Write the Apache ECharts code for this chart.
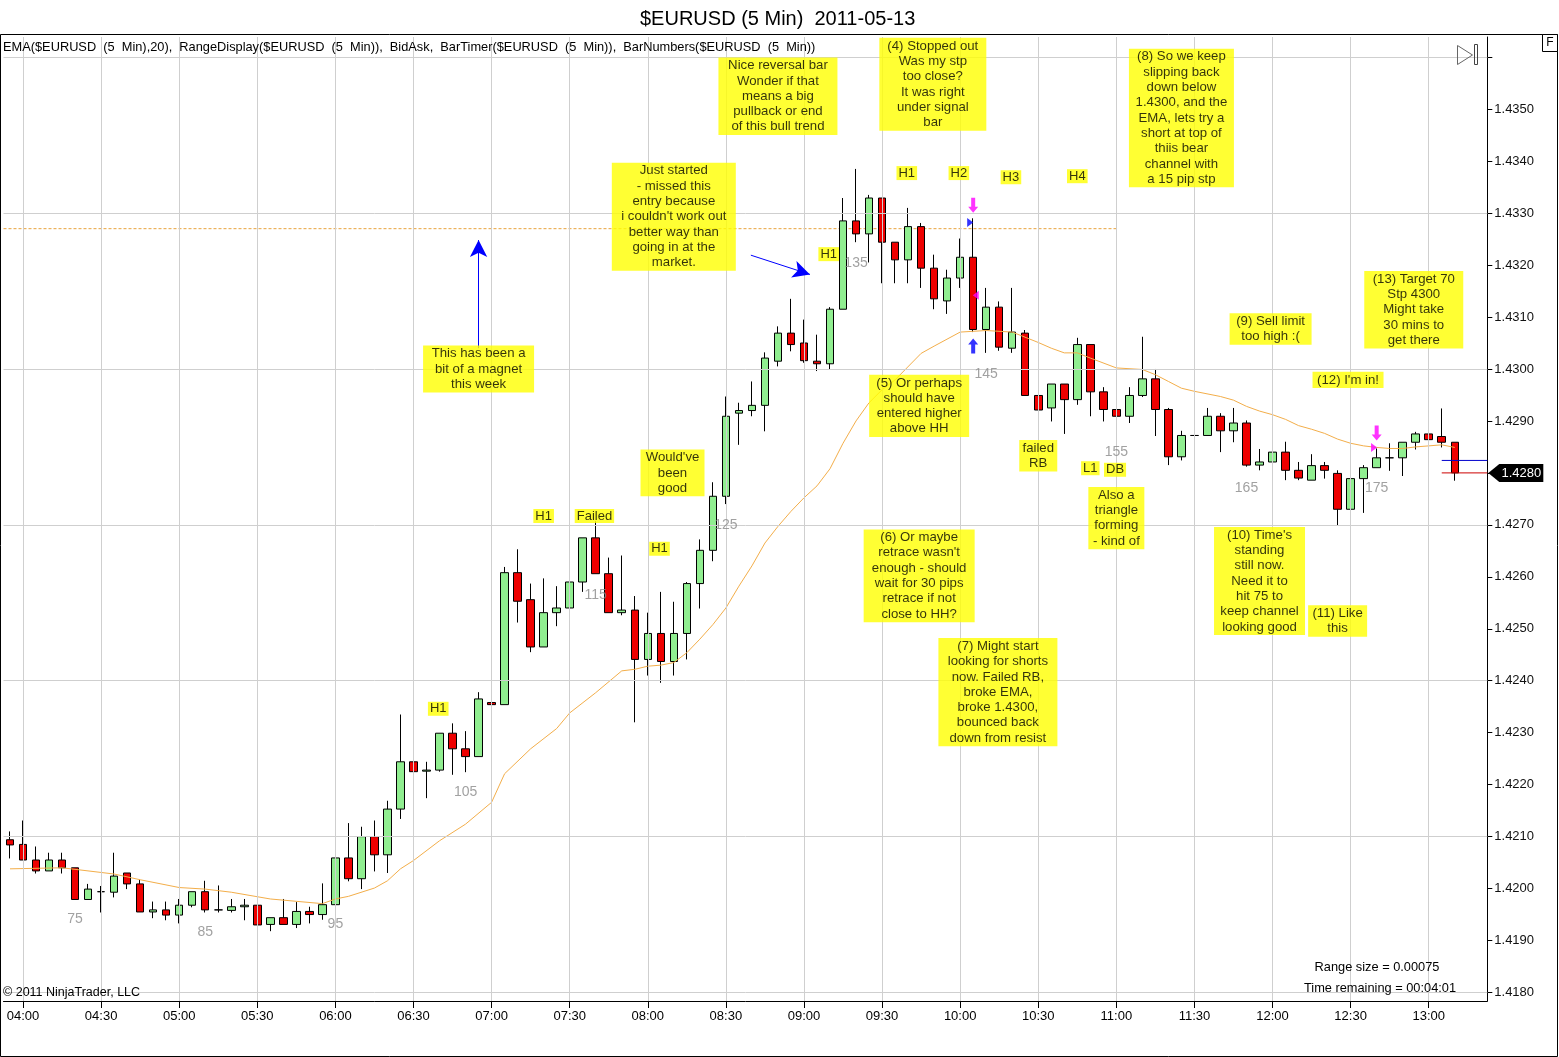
<!DOCTYPE html>
<html><head><meta charset="utf-8">
<script src="https://cdn.jsdelivr.net/npm/echarts@6/dist/echarts.min.js"></script>
<style>html,body{margin:0;padding:0;background:#fff}#c{width:1559px;height:1057px}</style>
</head><body><div id="c"></div>
<script>
const FONT = 'Liberation Sans, Arial, sans-serif';
// ---- data ----
const firstBarNumber = 70;
const opens = [1.42094,1.42085,1.42055,1.42034,1.42055,1.42040,1.41979,1.41994,1.41993,1.42030,
1.42009,1.41955,1.41959,1.41949,1.41968,1.41994,1.41959,1.41958,1.41965,1.41968,
1.41931,1.41944,1.41931,1.41956,1.41950,1.41969,1.42059,1.42019,1.42100,1.42065,
1.42153,1.42244,1.42226,1.42228,1.42299,1.42269,1.42254,1.42358,1.42354,1.42608,
1.42556,1.42465,1.42531,1.42540,1.42590,1.42675,1.42606,1.42531,1.42536,1.42441,
1.42491,1.42437,1.42491,1.42587,1.42651,1.42755,1.42915,1.42920,1.42930,1.43015,
1.43069,1.43050,1.43015,1.43010,1.43115,1.43285,1.43260,1.43329,1.43244,1.43210,
1.43274,1.43194,1.43131,1.43175,1.43215,1.43076,1.43119,1.43040,1.43069,1.42949,
1.42925,1.42971,1.42941,1.43047,1.42956,1.42922,1.42909,1.42949,1.42981,1.42922,
1.42831,1.42872,1.42872,1.42909,1.42881,1.42896,1.42815,1.42821,1.42840,1.42805,
1.42786,1.42814,1.42799,1.42730,1.42789,1.42810,1.42829,1.42829,1.42859,1.42875,
1.42870,1.42859];
const highs = [1.42110,1.42131,1.42081,1.42069,1.42069,1.42040,1.42009,1.42005,1.42069,1.42030,
1.42017,1.41975,1.41975,1.41980,1.41994,1.42015,1.42006,1.41980,1.41980,1.41990,
1.41944,1.41980,1.41974,1.41965,1.42010,1.42131,1.42126,1.42119,1.42131,1.42169,
1.42335,1.42280,1.42244,1.42299,1.42318,1.42303,1.42378,1.42378,1.42619,1.42653,
1.42587,1.42597,1.42582,1.42603,1.42675,1.42707,1.42637,1.42641,1.42563,1.42531,
1.42571,1.42552,1.42590,1.42672,1.42782,1.42947,1.42935,1.42976,1.43032,1.43082,
1.43135,1.43095,1.43066,1.43119,1.43329,1.43385,1.43335,1.43329,1.43244,1.43310,
1.43281,1.43220,1.43191,1.43251,1.43290,1.43156,1.43130,1.43156,1.43075,1.43021,
1.42971,1.42971,1.43060,1.43047,1.42965,1.42931,1.42965,1.43062,1.43000,1.42925,
1.42881,1.42936,1.42925,1.42915,1.42925,1.42901,1.42846,1.42922,1.42860,1.42821,
1.42836,1.42821,1.42805,1.42800,1.42815,1.42847,1.42857,1.42859,1.42879,1.42901,
1.42924,1.42859];
const lows = [1.42058,1.42055,1.42029,1.42034,1.42029,1.41979,1.41979,1.41954,1.41983,1.41999,
1.41955,1.41943,1.41939,1.41933,1.41964,1.41954,1.41954,1.41954,1.41939,1.41930,
1.41918,1.41931,1.41924,1.41933,1.41940,1.41969,1.42014,1.41999,1.42033,1.42030,
1.42134,1.42209,1.42174,1.42225,1.42219,1.42224,1.42254,1.42328,1.42354,1.42512,
1.42455,1.42465,1.42505,1.42526,1.42571,1.42606,1.42531,1.42526,1.42320,1.42410,
1.42396,1.42410,1.42441,1.42539,1.42630,1.42740,1.42854,1.42909,1.42880,1.43005,
1.43034,1.43012,1.42996,1.42999,1.43115,1.43244,1.43205,1.43165,1.43165,1.43165,
1.43156,1.43115,1.43106,1.43156,1.43071,1.43031,1.43035,1.43031,1.42949,1.42902,
1.42899,1.42875,1.42931,1.42909,1.42899,1.42880,1.42896,1.42946,1.42871,1.42815,
1.42824,1.42849,1.42872,1.42840,1.42859,1.42812,1.42805,1.42812,1.42786,1.42786,
1.42786,1.42789,1.42699,1.42710,1.42723,1.42810,1.42804,1.42794,1.42845,1.42849,
1.42849,1.42785];
const closes = [1.42084,1.42055,1.42034,1.42055,1.42040,1.41979,1.41999,1.41994,1.42024,1.42009,
1.41955,1.41959,1.41949,1.41968,1.41994,1.41959,1.41959,1.41965,1.41968,1.41930,
1.41944,1.41931,1.41956,1.41950,1.41969,1.42059,1.42019,1.42100,1.42065,1.42153,
1.42244,1.42225,1.42228,1.42299,1.42269,1.42254,1.42365,1.42354,1.42608,1.42553,
1.42465,1.42531,1.42540,1.42590,1.42675,1.42606,1.42531,1.42536,1.42441,1.42491,
1.42437,1.42491,1.42587,1.42651,1.42755,1.42909,1.42920,1.42930,1.43021,1.43069,
1.43047,1.43016,1.43010,1.43115,1.43285,1.43260,1.43329,1.43244,1.43210,1.43274,
1.43194,1.43135,1.43175,1.43215,1.43076,1.43119,1.43042,1.43071,1.42949,1.42921,
1.42971,1.42941,1.43047,1.42956,1.42922,1.42909,1.42949,1.42981,1.42922,1.42831,
1.42872,1.42872,1.42909,1.42881,1.42896,1.42815,1.42821,1.42840,1.42805,1.42790,
1.42814,1.42805,1.42730,1.42789,1.42810,1.42829,1.42829,1.42859,1.42875,1.42864,
1.42859,1.42800];
// EMA(20) at these bar numbers
const emaBars = [70,74,78,80,83,85,87,90,94,95,96,98,99,100,101,103,105,107,108,110,112,113,115,117,118,119,120,121,122,123,124,125,126,127,128,129,130,131,132,133,134,135,136,137,138,140,141,143,145,147,149,150,151,152,153,155,157,158,159,160,161,163,164,165,166,167,168,169,170,171,172,173,174,175,176,177,178,179,180,181];
const emaValues = [1.42038,1.42040,1.42028,1.42017,1.42002,1.41999,1.41993,1.41980,1.41971,1.41980,1.41985,1.42001,1.42015,1.42038,1.42054,1.42092,1.42124,1.42166,1.42221,1.42269,1.42308,1.42338,1.42377,1.42419,1.42422,1.42428,1.42430,1.42435,1.42454,1.42480,1.42508,1.42540,1.42582,1.42621,1.42665,1.42697,1.42726,1.42752,1.42775,1.42808,1.42857,1.42900,1.42935,1.42960,1.42979,1.43030,1.43044,1.43071,1.43074,1.43071,1.43051,1.43040,1.43031,1.43031,1.43021,1.43002,1.42999,1.42989,1.42976,1.42963,1.42957,1.42947,1.42940,1.42928,1.42919,1.42912,1.42903,1.42891,1.42884,1.42876,1.42865,1.42857,1.42852,1.42849,1.42847,1.42847,1.42850,1.42852,1.42854,1.42849];
const magnetLevel = 1.4327;
const magnetEndBar = 155;
const bidPrice = 1.42824, askPrice = 1.4280, lastPrice = 1.4280;
const quoteStartBar = 180;
const yTickValues = [1.418,1.419,1.420,1.421,1.422,1.423,1.424,1.425,1.426,1.427,1.428,1.429,1.430,1.431,1.432,1.433,1.434,1.435,1.436];
const yLabelValues = [1.418,1.419,1.420,1.421,1.422,1.423,1.424,1.425,1.426,1.427,1.428,1.429,1.430,1.431,1.432,1.433,1.434,1.435];
const yGridValues = [1.418,1.421,1.424,1.427,1.430,1.433,1.436];
const barNumberLabels = ['75','85','95','105','115','125','135','145','155','165','175'];
const barNumberBars = [75,85,95,105,115,125,135,145,155,165,175];
const barNumberPrices = [1.41941,1.41916,1.41932,1.42186,1.42565,1.42700,1.43204,1.42990,1.42840,1.42771,1.42771];
const noteTexts = [
 'This has been a\nbit of a magnet\nthis week',
 'Just started\n- missed this\nentry because\ni couldn\'t work out\nbetter way than\ngoing in at the\nmarket.',
 'Nice reversal bar\nWonder if that\nmeans a big\npullback or end\nof this bull trend',
 '(4) Stopped out\nWas my stp\ntoo close?\nIt was right\nunder signal\nbar',
 '(8) So we keep\nslipping back\ndown below\n1.4300, and the\nEMA, lets try a\nshort at top of\nthiis bear\nchannel with\na 15 pip stp',
 '(5) Or perhaps\nshould have\nentered higher\nabove HH',
 'Would\'ve\nbeen\ngood',
 '(6) Or maybe\nretrace wasn\'t\nenough - should\nwait for 30 pips\nretrace if not\nclose to HH?',
 '(7) Might start\nlooking for shorts\nnow. Failed RB,\nbroke EMA,\nbroke 1.4300,\nbounced back\ndown from resist',
 'failed\nRB',
 'Also a\ntriangle\nforming\n- kind of',
 '(9) Sell limit\ntoo high :(',
 '(10) Time\'s\nstanding\nstill now.\nNeed it to\nhit 75 to\nkeep channel\nlooking good',
 '(11) Like\nthis',
 '(12) I\'m in!',
 '(13) Target 70\nStp 4300\nMight take\n30 mins to\nget there'
];
const noteBars = [106.0,121.0,129.0,140.9,160.0,139.85,120.9,139.85,145.9,149.0,155.0,166.85,166.0,172.0,172.8,177.85];
const notePrices = [1.43000,1.43293,1.43525,1.43548,1.43483,1.42929,1.42800,1.42602,1.42378,1.42833,1.42713,1.43077,1.42592,1.42515,1.42979,1.43114];
// box widths (style)
const noteBoxWidths = [111,124,119,107,105,100,64,111,119,38,56,82,91,59,71,99];
const tagTexts = ['H1','Failed','H1','H1','H1','H1','H2','H3','H4','L1','DB'];
const tagBars = [111.0,114.9,119.9,102.9,132.9,138.9,142.9,146.9,152.0,153.0,154.9];
const tagPrices = [1.42717,1.42717,1.42654,1.42346,1.43221,1.43377,1.43377,1.43369,1.43371,1.42809,1.42806];
// trade markers
const markerBars = [144,143.77,144.2,144,175,174.8];
const markerPrices = [1.43315,1.43282,1.43142,1.43044,1.42877,1.42849];
const markerKinds = ['downPink','triRightBlue','triLeftPink','upBlue','downPink','triRightPink'];
// annotation arrows [bar, price]
const arrowFrom = [[106.0,1.43040],[126.92,1.43219]];
const arrowTo = [[106.0,1.43248],[131.46,1.43182]];

// ---- categories ----
const nCats = 114;
const times = [];
for (let k = 0; k < nCats; k++) {
  const m = 3 * 60 + 55 + 5 * k;
  times.push(String(Math.floor(m / 60)).padStart(2, '0') + ':' + String(m % 60).padStart(2, '0'));
}
const isHalfHour = v => v.endsWith(':00') || v.endsWith(':30');
const gridIdx = [];
times.forEach((t, k) => { if (isHalfHour(t) && k < 112) gridIdx.push(k); });
const idx = b => b - firstBarNumber;

const candleData = opens.map((o, i) => [o, closes[i], lows[i], highs[i]]);

const SYM = {
  downPink: ['path://M3,0L7,0L7,9L10,9L5,15L0,9L3,9Z', [10, 15], '#ff00ff'],
  upBlue: ['path://M5,0L10,6L7,6L7,15L3,15L3,6L0,6Z', [10, 15], '#0000ff'],
  triRightBlue: ['path://M0,0L6,4L0,8Z', [6, 9], '#0000ff'],
  triRightPink: ['path://M0,0L6,4L0,8Z', [6, 9], '#ff00ff'],
  triLeftPink: ['path://M6,0L0,4L6,8Z', [6, 9], '#ff00ff']
};
const HIDDEN = { color: 'rgba(0,0,0,0)' };

const yMin = 1.4178364, yMax = 1.436389;
const chart = echarts.init(document.getElementById('c'), null, { renderer: 'canvas' });

const option = {
  animation: false,
  backgroundColor: '#fff',
  title: { text: '$EURUSD (5 Min)  2011-05-13', left: 635, top: 4,
    textStyle: { fontFamily: FONT, fontSize: 20, fontWeight: 'normal', color: '#000' } },
  grid: { left: 3.5, right: 71.7, top: 37, bottom: 56 },
  xAxis: [
    { type: 'category', data: times, boundaryGap: true,
      axisLine: { show: true, onZero: false, lineStyle: { color: '#000', width: 1 } },
      axisTick: { show: true, alignWithLabel: true, length: 7, interval: (i, v) => isHalfHour(v) && i < 112, lineStyle: { color: '#000' } },
      axisLabel: { interval: (i, v) => isHalfHour(v) && i < 112, fontFamily: FONT, fontSize: 13, color: '#000', margin: 9 },
      splitLine: { show: false } },
    { type: 'value', min: -0.5, max: nCats - 0.5, show: false, gridIndex: 0 }
  ],
  yAxis: [{
    type: 'value', position: 'right', min: yMin, max: yMax, scale: true,
    axisLine: { show: true, onZero: false, lineStyle: { color: '#000', width: 1 } },
    axisTick: { show: true, inside: false, length: 5, customValues: yTickValues, lineStyle: { color: '#000' } },
    axisLabel: { customValues: yLabelValues, formatter: v => v.toFixed(4), fontFamily: FONT, fontSize: 13, color: '#111', margin: 7 },
    splitLine: { show: false }
  }],
  series: [
    { type: 'line', name: 'grid', xAxisIndex: 1, yAxisIndex: 0, z: 1, silent: true, showSymbol: false, symbol: 'none',
      data: [[-0.5, yMin], [-0.5, yMin]], lineStyle: { width: 0, opacity: 0 },
      markLine: { silent: true, symbol: 'none', precision: 6, animation: false, label: { show: false },
        lineStyle: { color: '#cfcfcf', width: 1, type: 'solid', opacity: 1 },
        data: gridIdx.map(k => ({ xAxis: k })).concat(yGridValues.map(v => ({ yAxis: v }))) } },
    { type: 'line', name: 'magnet', xAxisIndex: 1, yAxisIndex: 0, z: 2, silent: true, showSymbol: false, symbol: 'none',
      data: [[-0.5, magnetLevel], [idx(magnetEndBar), magnetLevel]],
      lineStyle: { color: '#e8a33a', width: 1, type: [3, 2] } },
    { type: 'candlestick', name: 'EURUSD', xAxisIndex: 0, yAxisIndex: 0, data: candleData, barWidth: 8, z: 3, silent: true,
      itemStyle: { color: '#90ee90', color0: '#ee0000', borderColor: '#000', borderColor0: '#000', borderColorDoji: '#000', borderWidth: 1 } },
    { type: 'line', name: 'EMA', xAxisIndex: 1, yAxisIndex: 0, z: 4, silent: true, showSymbol: false, symbol: 'none',
      data: emaBars.map((b, k) => [idx(b), emaValues[k]]),
      lineStyle: { color: '#f3ae4a', width: 1 } },
    { type: 'line', name: 'bid', xAxisIndex: 1, yAxisIndex: 0, z: 4, silent: true, showSymbol: false, symbol: 'none',
      data: [[idx(quoteStartBar), bidPrice], [nCats - 0.5, bidPrice]], lineStyle: { color: '#0000cc', width: 1 } },
    { type: 'line', name: 'ask', xAxisIndex: 1, yAxisIndex: 0, z: 4, silent: true, showSymbol: false, symbol: 'none',
      data: [[idx(quoteStartBar), askPrice], [nCats - 0.5, askPrice]], lineStyle: { color: '#cc0000', width: 1 } },
    { type: 'scatter', name: 'barNumbers', xAxisIndex: 1, yAxisIndex: 0, z: 5, silent: true, symbolSize: 1, itemStyle: HIDDEN,
      data: barNumberBars.map((b, k) => ({ value: [idx(b), barNumberPrices[k]], label: { formatter: barNumberLabels[k] } })),
      label: { show: true, position: 'inside', color: '#8a8a8a', fontFamily: FONT, fontSize: 14 },
      markLine: { silent: true, symbol: ['none', 'arrow'], symbolSize: [13, 17], precision: 6, animation: false, label: { show: false },
        lineStyle: { color: '#0000ff', width: 1, type: 'solid' },
        data: arrowFrom.map((f, k) => [{ coord: [idx(f[0]), f[1]] }, { coord: [idx(arrowTo[k][0]), arrowTo[k][1]] }]) } },
    { type: 'scatter', name: 'markers', xAxisIndex: 1, yAxisIndex: 0, z: 6, silent: true,
      data: markerBars.map((b, k) => { const s = SYM[markerKinds[k]]; return { value: [idx(b), markerPrices[k]], symbol: s[0], symbolSize: s[1], itemStyle: { color: s[2] } }; }) },
    { type: 'scatter', name: 'tags', xAxisIndex: 1, yAxisIndex: 0, z: 8, silent: true, symbolSize: 1, itemStyle: HIDDEN,
      data: tagBars.map((b, k) => ({ value: [idx(b), tagPrices[k]], label: { formatter: tagTexts[k] } })),
      label: { show: true, position: 'inside', backgroundColor: '#ffff00', color: '#000', fontFamily: FONT, fontSize: 13, padding: [1, 2, 0, 2] } },
    { type: 'scatter', name: 'notes', xAxisIndex: 1, yAxisIndex: 0, z: 9, silent: true, symbolSize: 1, itemStyle: HIDDEN,
      data: noteBars.map((b, k) => ({ value: [idx(b), notePrices[k]], label: { formatter: noteTexts[k], width: noteBoxWidths[k] } })),
      label: { show: true, position: 'inside', backgroundColor: '#ffff00', color: '#000', fontFamily: FONT, fontSize: 13.2, lineHeight: 15.3, align: 'center', padding: [1, 0, 0, 0], overflow: 'none' } }
  ],
  graphic: [
    { type: 'rect', shape: { x: 0.5, y: 34.5, width: 1557, height: 1022 }, style: { fill: 'none', stroke: '#000', lineWidth: 1 }, z: 100, silent: true },
    { type: 'text', left: 3, top: 41, style: { text: 'EMA($EURUSD  (5  Min),20),  RangeDisplay($EURUSD  (5  Min)),  BidAsk,  BarTimer($EURUSD  (5  Min)),  BarNumbers($EURUSD  (5  Min))', font: '12.8px ' + FONT, fill: '#000' }, z: 100 },
    { type: 'rect', shape: { x: 1542.5, y: 34.5, width: 15, height: 17 }, style: { fill: '#fff', stroke: '#000', lineWidth: 1 }, z: 100 },
    { type: 'text', x: 1550, y: 43, style: { text: 'F', font: '12px ' + FONT, fill: '#000', align: 'center', verticalAlign: 'middle' }, z: 101 },
    { type: 'polygon', shape: { points: [[1457.5, 45.5], [1472.5, 55], [1457.5, 64.5]] }, style: { fill: 'none', stroke: '#666', lineWidth: 1 }, z: 100 },
    { type: 'rect', shape: { x: 1474.5, y: 44.5, width: 3, height: 20 }, style: { fill: 'none', stroke: '#444', lineWidth: 1 }, z: 100 },
    { type: 'text', left: 3, top: 986, style: { text: '\u00a9 2011 NinjaTrader, LLC', font: '12.5px ' + FONT, fill: '#000' }, z: 100 },
    { type: 'text', x: 1377, y: 967, style: { text: 'Range size = 0.00075', font: '12.8px ' + FONT, fill: '#000', align: 'center', verticalAlign: 'middle' }, z: 100 },
    { type: 'text', x: 1380, y: 988, style: { text: 'Time remaining = 00:04:01', font: '12.8px ' + FONT, fill: '#000', align: 'center', verticalAlign: 'middle' }, z: 100 }
  ]
};
chart.setOption(option);

// last price box on the price axis
const py = chart.convertToPixel({ yAxisIndex: 0 }, lastPrice);
const ax = chart.convertToPixel({ xAxisIndex: 1 }, nCats - 0.5);
chart.setOption({ graphic: option.graphic.concat([
  { type: 'polygon', shape: { points: [[ax + 1, py], [ax + 12, py - 9], [ax + 56, py - 9], [ax + 56, py + 9], [ax + 12, py + 9]] }, style: { fill: '#000' }, z: 110 },
  { type: 'text', x: ax + 34, y: py + 0.5, style: { text: lastPrice.toFixed(4), font: '13px ' + FONT, fill: '#fff', align: 'center', verticalAlign: 'middle' }, z: 111 }
]) });
</script>
</body></html>
